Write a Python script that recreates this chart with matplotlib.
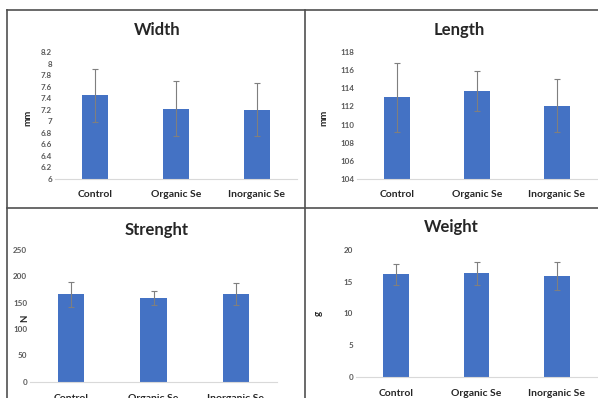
import numpy as np
import matplotlib.pyplot as plt
from matplotlib.lines import Line2D

groups = ["Control", "Organic Se", "Inorganic Se"]

width_mean = [7.45, 7.22, 7.20]
width_err = [0.46, 0.47, 0.46]

length_mean = [113.0, 113.75, 112.1]
length_err = [3.8, 2.2, 2.95]

strength_mean = [166, 159, 167]
strength_err = [24, 12.5, 21]

weight_mean = [16.15, 16.3, 15.95]
weight_err = [1.6, 1.75, 2.2]

W, H = 598, 398
bar_color = "#4472C4"
font = "Lato"

fig = plt.figure(figsize=(W / 100, H / 100), dpi=100)


def px_axes(x0, y0, x1, y1):
    # pixel box (top-left origin) -> figure fraction
    return fig.add_axes([x0 / W, 1 - y1 / H, (x1 - x0) / W, (y1 - y0) / H])


def panel(box, title, means, errs, ylim, step, ylabel, fmt, title_xy, ylab_xy, xlab_pad):
    ax = px_axes(*box)
    x = np.arange(len(groups))
    ax.bar(x, means, width=0.32, color=bar_color, zorder=2)
    ax.errorbar(x, means, yerr=errs, fmt="none", ecolor="#7f7f7f",
                elinewidth=0.8, capsize=2.5, capthick=0.8, zorder=3)
    ax.set_xlim(-0.5, 2.5)
    ax.set_ylim(*ylim)
    ticks = np.arange(ylim[0], ylim[1] + step / 2, step)
    ax.set_yticks(ticks)
    ax.set_yticklabels([fmt(t) for t in ticks], fontsize=5.8, fontweight="bold",
                       color="#595959", family=font)
    ax.set_xticks(x)
    ax.set_xticklabels(groups, fontsize=7.5, fontweight="bold", color="#262626",
                       family=font)
    ax.tick_params(length=0, pad=2)
    ax.tick_params(axis="x", pad=xlab_pad)
    for s in ["top", "right", "left"]:
        ax.spines[s].set_visible(False)
    ax.spines["bottom"].set_color("#d9d9d9")
    ax.spines["bottom"].set_linewidth(0.8)
    ax.set_facecolor("none")
    fig.text(title_xy[0] / W, 1 - title_xy[1] / H, title, ha="center", va="center",
             fontsize=12, fontweight="bold", color="#262626", family=font)
    fig.text(ylab_xy[0] / W, 1 - ylab_xy[1] / H, ylabel, ha="center", va="center",
             rotation=90, fontsize=7, fontweight="bold", color="#262626", family=font)
    return ax


def gen(t):
    return ("%.1f" % t).rstrip("0").rstrip(".")


def ints(t):
    return "%d" % round(t)


panel((55, 52, 297, 179), "Width", width_mean, width_err, (6, 8.2), 0.2, "mm",
      gen, (157, 30), (28, 118), 8)
panel((357, 52, 597, 179), "Length", length_mean, length_err, (104, 118), 2, "mm",
      ints, (459, 30), (324, 118), 8)
panel((30, 250, 277, 381.7), "Strenght", strength_mean, strength_err, (0, 250), 50, "N",
      ints, (157, 230), (25, 318), 9)
panel((356, 250, 597, 376.7), "Weight", weight_mean, weight_err, (0, 20), 5, "g",
      ints, (451, 227), (318, 313), 9)

# panel frame lines
frame = "#505050"
lw = 1.2
for xs, ys in [((7, 7), (10, H)), ((7, W), (10, 10)), ((305, 305), (10, H)), ((7, W), (208, 208))]:
    fig.add_artist(Line2D([x / W for x in xs], [1 - y / H for y in ys],
                          color=frame, linewidth=lw))

fig.savefig("out.png", dpi=100)
